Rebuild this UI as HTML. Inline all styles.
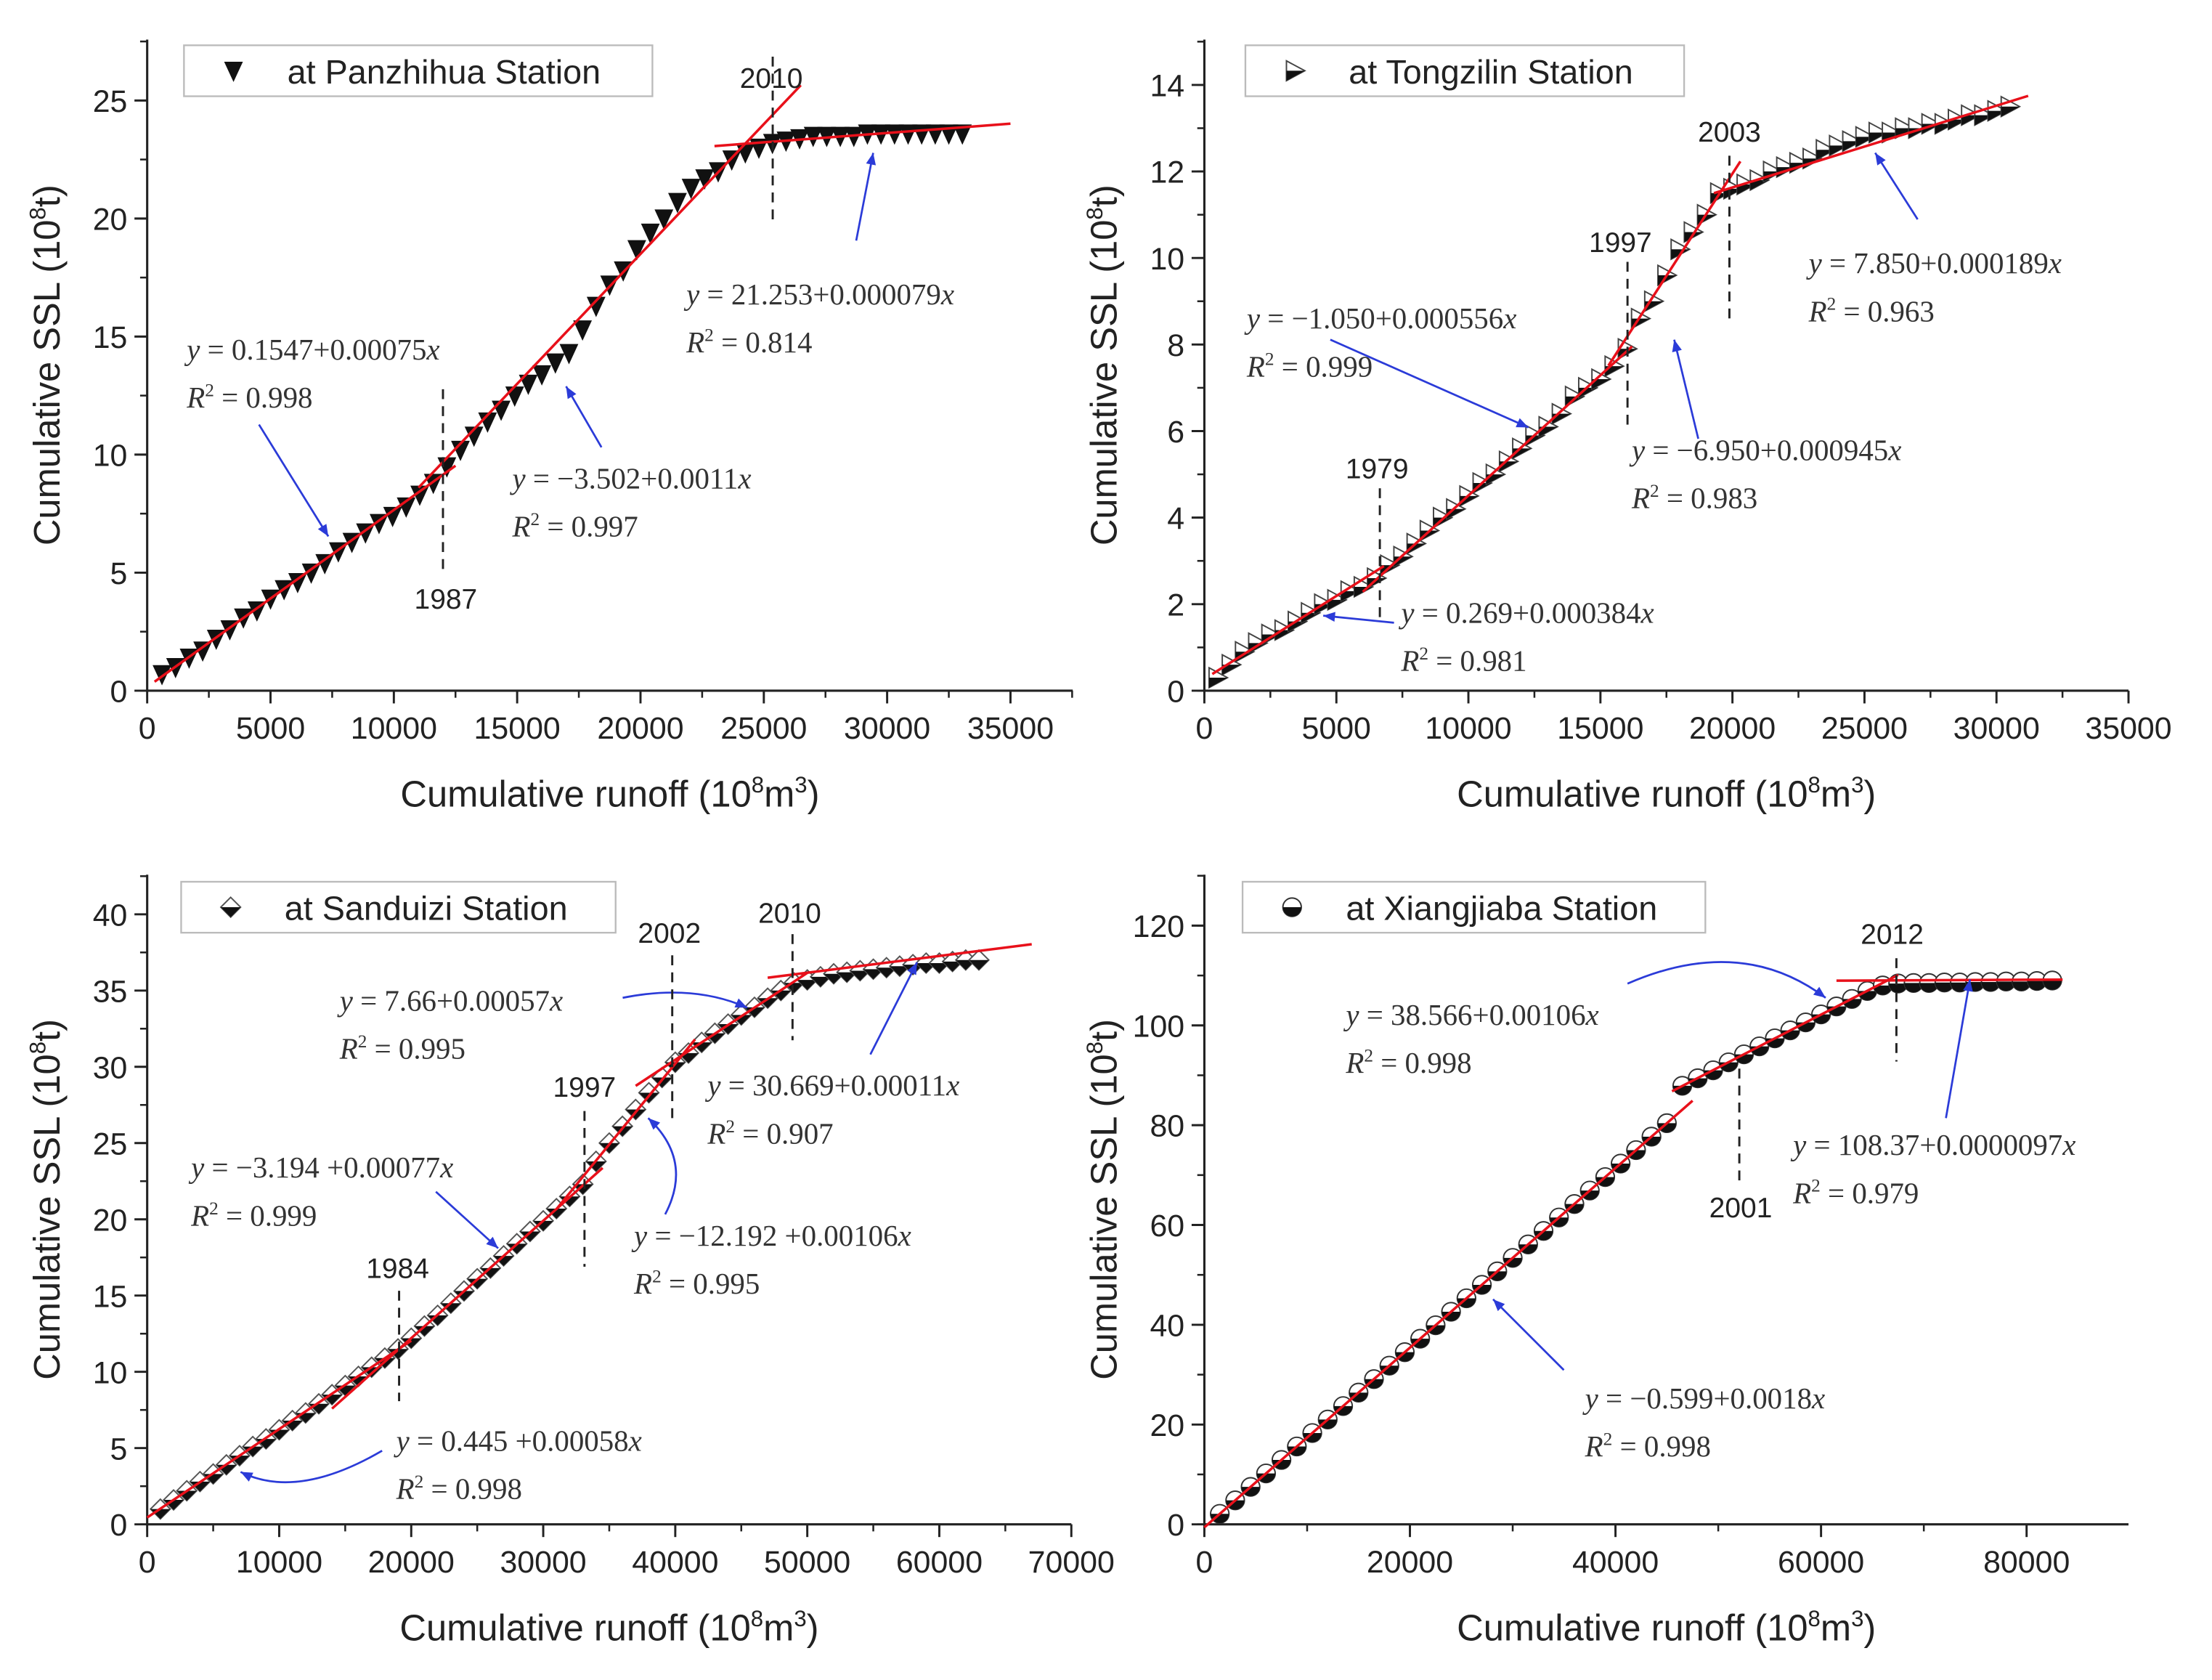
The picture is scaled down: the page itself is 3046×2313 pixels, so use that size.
<!DOCTYPE html>
<html><head><meta charset="utf-8"><style>
html,body{margin:0;padding:0;background:#fff}
svg{display:block}
text{font-family:"Liberation Sans",sans-serif;fill:#222}
.eq{font-family:"Liberation Serif",serif;font-size:21px;fill:#333}
</style></head><body>
<svg id="fig" width="3046" height="2313" viewBox="0 0 1563 1187" preserveAspectRatio="none" xmlns="http://www.w3.org/2000/svg"></svg>
<script>
// ---- data ----
const pzX=[600,1150,1700,2250,2800,3350,3900,4450,5000,5550,6100,6650,7200,7750,8300,8850,9400,9950,10500,11050,11600,12150,12700,13250,13800,14350,14900,15450,16000,16550,17100,17650,18200,18750,19300,19850,20400,20950,21500,22050,22600,23150,23700,24250,24800,25350,25900,26450,27000,27550,28100,28650,29200,29750,30300,30850,31400,31950,32500,33050];
const pzY=[0.7,1.0,1.4,1.7,2.2,2.6,3.1,3.4,3.9,4.3,4.6,5.0,5.4,5.9,6.3,6.7,7.1,7.4,7.8,8.3,8.8,9.5,10.2,10.8,11.4,11.9,12.5,13.0,13.4,13.9,14.3,15.3,16.3,17.2,17.8,18.7,19.4,20.0,20.7,21.3,21.7,22.0,22.5,22.8,23.0,23.2,23.3,23.4,23.5,23.5,23.5,23.5,23.6,23.6,23.6,23.6,23.6,23.6,23.6,23.6];
const tzX=[500,1000,1500,2000,2500,3000,3500,4000,4500,5000,5500,6000,6500,7000,7500,8000,8500,9000,9500,10000,10500,11000,11500,12000,12500,13000,13500,14000,14500,15000,15500,16000,16500,17000,17500,18000,18500,19000,19500,20000,20500,21000,21500,22000,22500,23000,23500,24000,24500,25000,25500,26000,26500,27000,27500,28000,28500,29000,29500,30000,30500];
const tzY=[0.3,0.6,0.9,1.1,1.3,1.4,1.6,1.8,2.0,2.1,2.3,2.4,2.6,2.9,3.1,3.4,3.7,4.0,4.2,4.5,4.8,5.0,5.3,5.6,5.9,6.1,6.4,6.8,7.0,7.2,7.5,7.9,8.6,9.0,9.6,10.2,10.6,11.0,11.5,11.6,11.7,11.8,12.0,12.1,12.2,12.3,12.5,12.6,12.7,12.8,12.9,12.9,13.0,13.0,13.1,13.1,13.2,13.3,13.3,13.4,13.5];
const sdX=[1000,2000,3000,4000,5000,6000,7000,8000,9000,10000,11000,12000,13000,14000,15000,16000,17000,18000,19000,20000,21000,22000,23000,24000,25000,26000,27000,28000,29000,30000,31000,32000,33000,34000,35000,36000,37000,38000,39000,40000,41000,42000,43000,44000,45000,46000,47000,48000,49000,50000,51000,52000,53000,54000,55000,56000,57000,58000,59000,60000,61000,62000,63000];
const sdY=[1.0,1.6,2.2,2.8,3.3,3.9,4.5,5.1,5.6,6.2,6.8,7.3,7.9,8.5,9.1,9.7,10.3,10.9,11.5,12.2,13.0,13.7,14.5,15.3,16.1,16.8,17.6,18.4,19.2,19.9,20.7,21.5,22.3,23.8,25.0,26.1,27.2,28.3,29.3,30.3,30.9,31.6,32.2,32.8,33.4,33.9,34.5,35.0,35.5,35.7,35.9,36.1,36.2,36.3,36.4,36.5,36.6,36.7,36.8,36.8,36.9,37.0,37.0];
const xjX=[1500,3000,4500,6000,7500,9000,10500,12000,13500,15000,16500,18000,19500,21000,22500,24000,25500,27000,28500,30000,31500,33000,34500,36000,37500,39000,40500,42000,43500,45000,46500,48000,49500,51000,52500,54000,55500,57000,58500,60000,61500,63000,64500,66000,67500,69000,70500,72000,73500,75000,76500,78000,79500,81000,82500];
const xjY=[2.1,4.8,7.5,10.2,12.9,15.6,18.3,21.0,23.7,26.4,29.1,31.8,34.5,37.2,39.9,42.6,45.3,48.0,50.7,53.4,56.1,58.8,61.5,64.2,66.9,69.6,72.3,75.0,77.7,80.4,87.9,89.4,91.0,92.6,94.2,95.8,97.4,99.0,100.6,102.2,103.8,105.3,106.9,108.0,108.4,108.5,108.5,108.6,108.6,108.7,108.7,108.8,108.8,108.9,109.0];
// fit lines: intercept, slope, xStart, xEnd
const pzFitA=[0.1547,-3.502,21.253], pzFitB=[0.00075,0.0011,0.000079], pzFitX0=[300,11000,23000], pzFitX1=[12500,26500,35000];
const tzFitA=[0.269,-1.050,-6.950,7.850], tzFitB=[0.000384,0.000556,0.000945,0.000189], tzFitX0=[300,6000,15300,19300], tzFitX1=[6800,16200,20300,31200];
const sdFitA=[0.445,-3.194,-12.192,7.66,30.669], sdFitB=[0.00058,0.00077,0.00106,0.00057,0.00011], sdFitX0=[0,14000,31000,37000,47000], sdFitX1=[20000,34500,41500,50000,67000];
const xjFitA=[-0.599,38.566,108.37], xjFitB=[0.0018,0.00106,0.0000097], xjFitX0=[0,45500,61500], xjFitX1=[47500,67500,83500];
const pzXTicks=[0,5000,10000,15000,20000,25000,30000,35000], pzYTicks=[0,5,10,15,20,25];
const tzXTicks=[0,5000,10000,15000,20000,25000,30000,35000], tzYTicks=[0,2,4,6,8,10,12,14];
const sdXTicks=[0,10000,20000,30000,40000,50000,60000,70000], sdYTicks=[0,5,10,15,20,25,30,35,40];
const xjXTicks=[0,20000,40000,60000,80000], xjYTicks=[0,20,40,60,80,100,120];

const NS="http://www.w3.org/2000/svg", svg=document.getElementById('fig');
function mk(tag,attrs,parent,txt){const e=document.createElementNS(NS,tag);for(const k in attrs)e.setAttribute(k,attrs[k]);if(txt!==undefined)e.textContent=txt;(parent||svg).appendChild(e);return e;}

const panels=[
 {id:'panzhihua',L:104,R:758,T:28,B:488,x0px:104,x1px:714,xv1:35000,y0px:488,y1px:71,yv1:25,xs:pzX,ys:pzY,fa:pzFitA,fb:pzFitB,f0:pzFitX0,f1:pzFitX1,xt:pzXTicks,yt:pzYTicks,xminor:2500,yminor:2.5,marker:'tri-down',legend:'at Panzhihua Station',lg:[130,32,331]},
 {id:'tongzilin',L:851,R:1504,T:28,B:488,x0px:851,x1px:1504,xv1:35000,y0px:488,y1px:60,yv1:14,xs:tzX,ys:tzY,fa:tzFitA,fb:tzFitB,f0:tzFitX0,f1:tzFitX1,xt:tzXTicks,yt:tzYTicks,xminor:2500,yminor:1,marker:'tri-right',legend:'at Tongzilin Station',lg:[880,32,310]},
 {id:'sanduizi',L:104,R:757,T:618,B:1077,x0px:104,x1px:757,xv1:70000,y0px:1077,y1px:646,yv1:40,xs:sdX,ys:sdY,fa:sdFitA,fb:sdFitB,f0:sdFitX0,f1:sdFitX1,xt:sdXTicks,yt:sdYTicks,xminor:5000,yminor:2.5,marker:'diamond',legend:'at Sanduizi Station',lg:[128,623,307]},
 {id:'xiangjiaba',L:851,R:1504,T:618,B:1077,x0px:851,x1px:1432,xv1:80000,y0px:1077,y1px:654,yv1:120,xs:xjX,ys:xjY,fa:xjFitA,fb:xjFitB,f0:xjFitX0,f1:xjFitX1,xt:xjXTicks,yt:xjYTicks,xminor:10000,yminor:10,marker:'circle',legend:'at Xiangjiaba Station',lg:[878,623,327]}
];

function drawMarker(type,x,y,g,name){
  let e;
  if(type==='tri-down'){e=mk('path',{d:`M${x-6},${y-6}L${x+6},${y-6}L${x},${y+7}Z`,fill:'#111',stroke:'#111','stroke-width':0.8},g);}
  else if(type==='tri-right'){e=mk('g',{},g);mk('path',{d:`M${x-6},${y-7}L${x+7},${y}L${x-6},${y+7}Z`,fill:'#fff',stroke:'#444','stroke-width':1},e);mk('path',{d:`M${x-6},${y}L${x+7},${y}L${x-6},${y+7}Z`,fill:'#111'},e);}
  else if(type==='diamond'){e=mk('g',{},g);mk('path',{d:`M${x},${y-7}L${x+7},${y}L${x},${y+7}L${x-7},${y}Z`,fill:'#fff',stroke:'#555','stroke-width':1},e);mk('path',{d:`M${x-7},${y}L${x+7},${y}L${x},${y+7}Z`,fill:'#111'},e);}
  else {e=mk('g',{},g);mk('circle',{cx:x,cy:y,r:6.5,fill:'#fff',stroke:'#333','stroke-width':1},e);mk('path',{d:`M${x-6.5},${y}A6.5,6.5 0 0 0 ${x+6.5},${y}Z`,fill:'#111'},e);}
  
  
  return e;
}

panels.forEach(p=>{
  const g=mk('g',{});
  
  
  const sx=v=>p.x0px+(v/p.xv1)*(p.x1px-p.x0px);
  const sy=v=>p.y0px-(v/p.yv1)*(p.y0px-p.y1px);
  const ax=mk('path',{d:`M${p.L},${p.T}L${p.L},${p.B}L${p.R},${p.B}`,fill:'none',stroke:'#222','stroke-width':1.6},g);
  
  
  for(let v=0; sx(v)<=p.R+0.5; v+=p.xminor){mk('line',{x1:sx(v),x2:sx(v),y1:p.B,y2:p.B+5,stroke:'#222','stroke-width':1.3},g);}
  p.xt.forEach(v=>{mk('line',{x1:sx(v),x2:sx(v),y1:p.B,y2:p.B+9,stroke:'#222','stroke-width':1.5},g);
    const t=mk('text',{x:sx(v),y:p.B+34,'text-anchor':'middle','font-size':22},g,String(v));
    
    });
  for(let v=0; sy(v)>=p.T-0.5; v+=p.yminor){mk('line',{x1:p.L-5,x2:p.L,y1:sy(v),y2:sy(v),stroke:'#222','stroke-width':1.3},g);}
  p.yt.forEach(v=>{mk('line',{x1:p.L-9,x2:p.L,y1:sy(v),y2:sy(v),stroke:'#222','stroke-width':1.5},g);
    const t=mk('text',{x:p.L-14,y:sy(v)+8,'text-anchor':'end','font-size':22},g,String(v));
    
    });
  const xt=mk('text',{x:(p.L+p.R)/2,y:p.B+82,'text-anchor':'middle','font-size':26},g);
  xt.innerHTML='Cumulative runoff (10<tspan dy="-10" font-size="16">8</tspan><tspan dy="10">m</tspan><tspan dy="-10" font-size="16">3</tspan><tspan dy="10">)</tspan>';
  
  
  const cy=(p.T+p.B)/2, cx=p.L-62;
  const yt=mk('text',{x:cx,y:cy,'text-anchor':'middle','font-size':26,transform:`rotate(-90 ${cx} ${cy})`},g);
  yt.innerHTML='Cumulative SSL (10<tspan dy="-10" font-size="16">8</tspan><tspan dy="10">t)</tspan>';
  
  
  p.xs.forEach((xv,i)=>{drawMarker(p.marker,sx(xv),sy(p.ys[i]),g,'data-point');});
  p.fa.forEach((a,i)=>{const l=mk('line',{x1:sx(p.f0[i]),y1:sy(a+p.fb[i]*p.f0[i]),x2:sx(p.f1[i]),y2:sy(a+p.fb[i]*p.f1[i]),stroke:'#e8101a','stroke-width':1.8},g);
    
    });
  const lg=mk('g',{},g);
  
  
  mk('rect',{x:p.lg[0],y:p.lg[1],width:p.lg[2],height:36,fill:'#fff',stroke:'#bbb','stroke-width':1.2},lg);
  drawMarker(p.marker,p.lg[0]+35,p.lg[1]+18,lg,'legend-marker');
  mk('text',{x:p.lg[0]+73,y:p.lg[1]+27,'font-size':24},lg,p.legend);
});

function eq(x,y,s,r){const t=mk('text',{x:x,y:y,class:'eq'});t.innerHTML='<tspan font-style="italic">y</tspan> = '+s+'<tspan font-style="italic">x</tspan>';
  
  
  const t2=mk('text',{x:x,y:y+34,class:'eq'});t2.innerHTML='<tspan font-style="italic">R</tspan><tspan dy="-8" font-size="13">2</tspan><tspan dy="8"> = '+r+'</tspan>';
  
  }
function arrow(x1,y1,x2,y2,cx,cy){const d=cx!==undefined?`M${x1},${y1}Q${cx},${cy} ${x2},${y2}`:`M${x1},${y1}L${x2},${y2}`;
  const a=mk('path',{d:d,fill:'none',stroke:'#2b3bd8','stroke-width':1.4});
  
  
  const sx=cx!==undefined?cx:x1, sy=cy!==undefined?cy:y1;
  const ang=Math.atan2(y2-sy,x2-sx), L=9, w=0.4;
  mk('path',{d:`M${x2},${y2}L${x2-L*Math.cos(ang-w)},${y2-L*Math.sin(ang-w)}L${x2-L*Math.cos(ang+w)},${y2-L*Math.sin(ang+w)}Z`,fill:'#2b3bd8'});}
function brk(x,y1,y2,label,lx,ly){const l=mk('line',{x1:x,x2:x,y1:y1,y2:y2,stroke:'#222','stroke-width':1.5,'stroke-dasharray':'7,5'});
  
  
  const t=mk('text',{x:lx,y:ly,'text-anchor':'middle','font-size':20},svg,label);
  
  }

eq(132,254,'0.1547+0.00075','0.998'); arrow(183,300,232,379);
eq(362,345,'\u22123.502+0.0011','0.997'); arrow(425,316,400,273);
eq(485,215,'21.253+0.000079','0.814'); arrow(605,170,617,108);
brk(313,275,405,'1987',315,430); brk(546,40,160,'2010',545,62);
eq(881,232,'\u22121.050+0.000556','0.999'); arrow(940,240,1080,302);
eq(1153,325,'\u22126.950+0.000945','0.983'); arrow(1200,310,1183,240);
eq(990,440,'0.269+0.000384','0.981'); arrow(985,440,935,435);
eq(1278,193,'7.850+0.000189','0.963'); arrow(1355,155,1325,108);
brk(1222,110,225,'2003',1222,100); brk(1150,185,305,'1997',1145,178); brk(975,345,440,'1979',973,338);
eq(240,714,'7.66+0.00057','0.995'); arrow(440,705,528,712,490,695);
eq(500,774,'30.669+0.00011','0.907'); arrow(615,745,648,680);
eq(135,832,'\u22123.194 +0.00077','0.999'); arrow(308,842,352,882);
eq(448,880,'\u221212.192 +0.00106','0.995'); arrow(470,858,458,790,490,820);
eq(280,1025,'0.445 +0.00058','0.998'); arrow(270,1025,170,1040,210,1060);
brk(475,675,790,'2002',473,666); brk(560,660,735,'2010',558,652); brk(413,785,895,'1997',413,775); brk(282,912,990,'1984',281,903);
eq(951,724,'38.566+0.00106','0.998'); arrow(1150,695,1290,705,1230,660);
eq(1267,816,'108.37+0.0000097','0.979'); arrow(1375,790,1392,692);
eq(1120,995,'\u22120.599+0.0018','0.998'); arrow(1105,968,1055,918);
brk(1340,677,750,'2012',1337,667); brk(1229,755,835,'2001',1230,860);
</script>
</body></html>
